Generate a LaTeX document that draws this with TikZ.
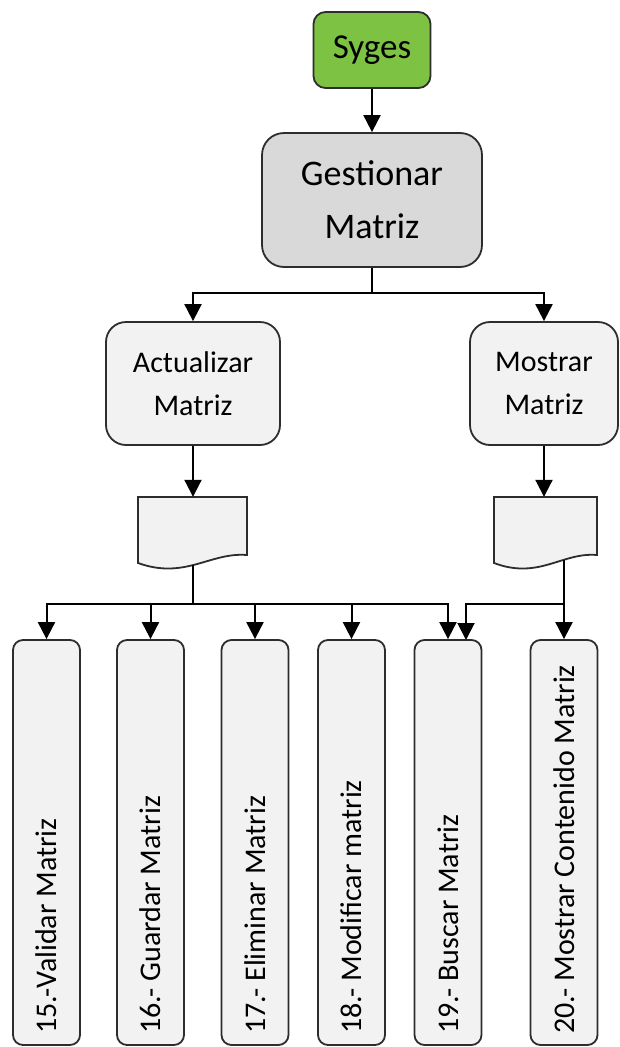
\documentclass[tikz,border=0pt]{standalone}
\usepackage{fontspec}
\setmainfont{Carlito}
\usetikzlibrary{arrows.meta}
\definecolor{sygreen}{RGB}{125,194,66}
\definecolor{gfill}{RGB}{217,217,217}
\definecolor{lfill}{RGB}{242,242,242}
\definecolor{edge}{RGB}{45,45,45}
\begin{document}
\begin{tikzpicture}[x=1pt,y=-1pt,
  boxbase/.style={draw=edge, line width=1.8pt, inner sep=0pt, align=center},
  topbox/.style={boxbase, fill=sygreen, rounded corners=12pt, font=\fontsize{35}{42}\selectfont},
  mainbox/.style={boxbase, fill=gfill, rounded corners=22pt, font=\fontsize{36}{53}\selectfont},
  midbox/.style={boxbase, fill=lfill, rounded corners=20pt, font=\fontsize{30}{43}\selectfont},
  leafbox/.style={boxbase, fill=lfill, rounded corners=10pt, minimum width=67pt, minimum height=405pt},
  vtext/.style={rotate=90, anchor=west, inner sep=0pt, font=\fontsize{30}{36}\selectfont},
  docline/.style={draw=edge, line width=1.8pt, fill=lfill},
  docanchor/.style={inner sep=0pt, minimum width=104pt, minimum height=66pt},
  conn/.style={line width=2pt, draw=black},
  arr/.style={conn, -{Triangle[length=17pt,width=17pt]}}]
\useasboundingbox (0,0) rectangle (620,1047);

% top levels
\node[topbox, minimum width=117pt, minimum height=76pt] (syges) at (372,50) {Syges};
\node[mainbox, minimum width=220pt, minimum height=134pt] (gest) at (372,200) {Gestionar\\Matriz};
\node[midbox, minimum width=174pt, minimum height=123pt] (act) at (193,383.5) {Actualizar\\Matriz};
\node[midbox, minimum width=148pt, minimum height=123pt] (most) at (544,383.5) {Mostrar\\Matriz};

\draw[arr] (syges.south) -- (gest.north);
\coordinate (split) at (372,293);
\draw[conn] (gest.south) -- (split);
\draw[arr] (split) -| (act.north);
\draw[arr] (split) -| (most.north);

% documents
\draw[docline] (138,497) -- (247,497) -- (247,555) .. controls (210,552) and (185,580) .. (138,563) -- cycle;
\node[docanchor] (docA) at (193,530) {};
\draw[docline] (494,497) -- (597,497) -- (597,555) .. controls (562,552) and (539,580) .. (494,563) -- cycle;
\node[docanchor] (docB) at (544,530) {};

\draw[arr] (act.south) -- (docA.north);
\draw[arr] (most.south) -- (docB.north);

% leaves
\node[leafbox] (b15) at (46.5,842.5) {};
\node[leafbox] (b16) at (150.5,842.5) {};
\node[leafbox] (b17) at (255,842.5) {};
\node[leafbox] (b18) at (351.5,842.5) {};
\node[leafbox] (b19) at (448,842.5) {};
\node[leafbox] (b20) at (564,842.5) {};

\node[vtext] (t15) at (46.5,1034) {15.-Validar Matriz};
\node[vtext] (t16) at (150.5,1034) {16.- Guardar Matriz};
\node[vtext] (t17) at (255,1034) {17.- Eliminar Matriz};
\node[vtext] (t18) at (351.5,1034) {18.- Modificar matriz};
\node[vtext] (t19) at (448,1034) {19.- Buscar Matriz};
\node[vtext] (t20) at (564,1034) {20.- Mostrar Contenido Matriz};

% connectors to leaves
\coordinate (aout) at (193,565);
\coordinate (ajoin) at (193,604);
\draw[conn] (aout) -- (ajoin);
\draw[arr] (ajoin) -| (b15.north);
\draw[arr] (ajoin) -| (b16.north);
\draw[arr] (ajoin) -| (b17.north);
\draw[arr] (ajoin) -| (b18.north);
\draw[arr] (ajoin) -| (b19.north);

\coordinate (bout) at (564,559.5);
\coordinate (bjoin) at (564,604);
\coordinate (b19r) at (466,640);
\draw[arr] (bout) -- (b20.north);
\draw[arr] (bjoin) -| (b19r);
\end{tikzpicture}
\end{document}
